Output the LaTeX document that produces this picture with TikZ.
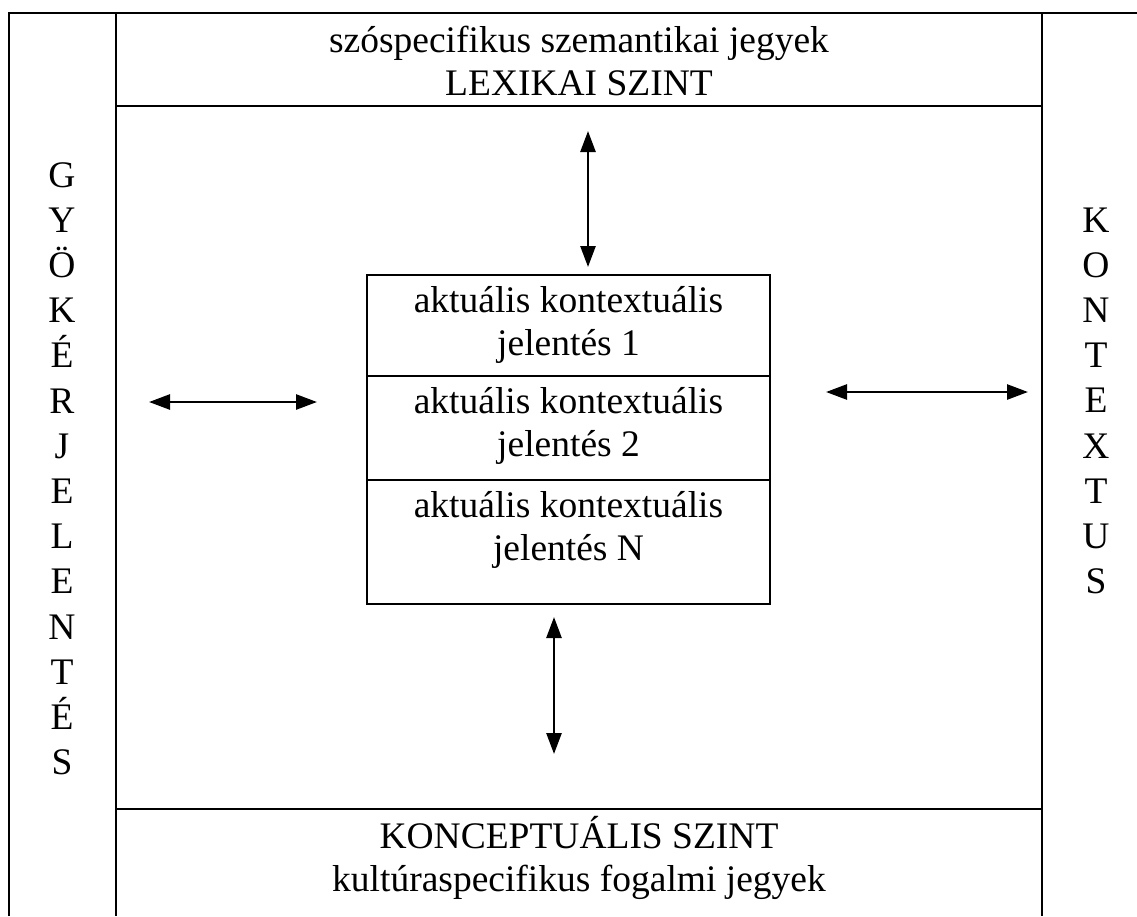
\documentclass[tikz,border=0pt]{standalone}
\usepackage{fontspec}
\setmainfont{Liberation Serif}
\usetikzlibrary{arrows.meta}
\begin{document}
\begin{tikzpicture}[x=1pt,y=-1pt,
  frame/.style={line width=1.8pt},
  cell/.style={draw, line width=1.8pt, minimum width=403pt, inner sep=0pt, anchor=north},
  lbl/.style={font=\fontsize{37.5}{43}\selectfont, inner sep=0pt, anchor=base},
  biarrow/.style={line width=2.6pt, {Triangle[length=21pt,width=15pt]}-{Triangle[length=21pt,width=15pt]}}]
\useasboundingbox (0,0) rectangle (1137,916);
% frame
\draw[frame] (9,916) -- (9,13) -- (1137,13);
\draw[frame] (116,13) -- (116,916);
\draw[frame] (1042,13) -- (1042,916);
\draw[frame] (116,106) -- (1042,106);
\draw[frame] (116,809) -- (1042,809);
% top and bottom bands
\node[lbl] (top1) at (579,52) {szóspecifikus szemantikai jegyek};
\node[lbl] (top2) at (579,95) {LEXIKAI SZINT};
\node[lbl] (bot1) at (579,848) {KONCEPTUÁLIS SZINT};
\node[lbl] (bot2) at (579,891) {kultúraspecifikus fogalmi jegyek};
% central box
\node[cell, minimum height=101pt] (c1) at (568.5,274) {};
\node[cell, minimum height=104pt] (c2) at (568.5,375) {};
\node[cell, minimum height=124pt] (c3) at (568.5,479) {};
\node[lbl] (t1a) at (568.5,312) {aktuális kontextuális};
\node[lbl] (t1b) at (568.5,355) {jelentés 1};
\node[lbl] (t2a) at (568.5,413) {aktuális kontextuális};
\node[lbl] (t2b) at (568.5,456) {jelentés 2};
\node[lbl] (t3a) at (568.5,517) {aktuális kontextuális};
\node[lbl] (t3b) at (568.5,560) {jelentés N};
% vertical words
\foreach \ch [count=\i from 0] in {G,Y,Ö,K,É,R,J,E,L,E,N,T,É,S}
  \node[lbl] (g\i) at (62,{187+45.2*\i}) {\ch};
\foreach \ch [count=\i from 0] in {K,O,N,T,E,X,T,U,S}
  \node[lbl] (k\i) at (1096,{232+45.2*\i}) {\ch};
% arrows
\coordinate (la) at (149,402);
\coordinate (lb) at (317,402);
\coordinate (ra) at (826,392);
\coordinate (rb) at (1028,392);
\coordinate (ua) at (588,131);
\coordinate (ub) at (588,267);
\coordinate (da) at (554,617);
\coordinate (db) at (554,754);
\draw[biarrow] (la) -- (lb);
\draw[biarrow] (ra) -- (rb);
\draw[biarrow] (ua) -- (ub);
\draw[biarrow] (da) -- (db);
\end{tikzpicture}
\end{document}
